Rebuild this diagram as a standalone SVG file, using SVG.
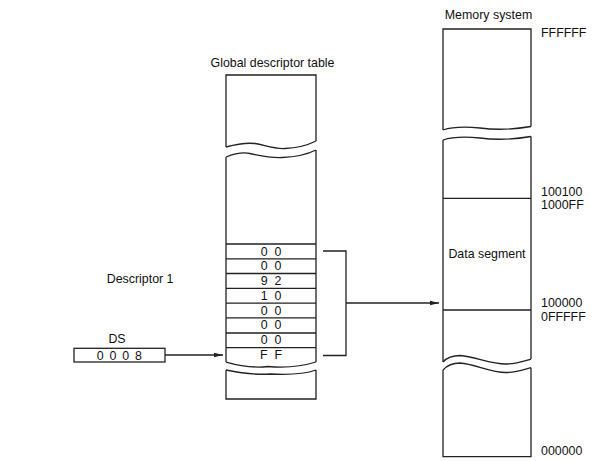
<svg xmlns="http://www.w3.org/2000/svg" width="606" height="461" viewBox="0 0 606 461">
<style>
  .ln { fill: none; stroke: #222; stroke-width: 1.3; stroke-linejoin: miter; }
  .bx { fill: #fff; stroke: #222; stroke-width: 1.3; }
  text { font-family: "Liberation Sans", Arial, sans-serif; font-size: 12.4px; fill: #111; }
  .c { text-anchor: middle; }
  .d { text-anchor: middle; word-spacing: 3.5px; }
</style>
<defs>
  <marker id="ah" markerWidth="9" markerHeight="6" refX="9" refY="3" orient="auto" markerUnits="userSpaceOnUse">
    <path d="M0,0.8 L9,3 L0,5.2 Z" fill="#222"/>
  </marker>
</defs>
<rect width="606" height="461" fill="#fff"/>

<g id="gdt">
  <text class="c" x="272.5" y="66.7">Global descriptor table</text>
  <path class="ln" d="M226,147 V75 H316 V141"/>
  <path class="ln" d="M226,147 C237,144 246,142.5 255,143.5 C265,145 272,149 285,148.5 C298,148 308,145 316,141"/>
  <path class="ln" d="M226,157 C236,153 243,152 250,153.5 C258,155 268,158 282,157.5 C296,157 308,154 316,150"/>
  <path class="ln" d="M226,157 V362 M316,150 V362"/>
  <path class="ln" d="M226,362 C240,366 255,368 268,366.5 C285,368 300,367 316,362"/>
  <path class="ln" d="M226,244 H316 M226,258.8 H316 M226,273.5 H316 M226,288.3 H316 M226,303.2 H316 M226,317.8 H316 M226,333 H316 M226,347.7 H316"/>
  <path class="ln" d="M226,370 C240,373 255,375 270,374 C290,375 305,374 316,370 M226,370 V399 H316 V370"/>
  <text class="d" x="271" y="255.6">0 0</text>
  <text class="d" x="271" y="270.4">0 0</text>
  <text class="d" x="271" y="285.1">9 2</text>
  <text class="d" x="271" y="299.9">1 0</text>
  <text class="d" x="271" y="314.6">0 0</text>
  <text class="d" x="271" y="329.4">0 0</text>
  <text class="d" x="271" y="344.1">0 0</text>
  <text class="d" x="271" y="358.9">F F</text>
</g>

<g id="descriptor1">
  <text x="106.7" y="283.3">Descriptor 1</text>
</g>

<g id="ds">
  <text class="c" x="117" y="342.7">DS</text>
  <rect class="bx" x="74" y="348.3" width="91" height="13.7"/>
  <text class="c" x="119.3" y="359.6" style="word-spacing:2.4px">0 0 0 8</text>
</g>

<g id="memory">
  <text class="c" x="488.5" y="19.3">Memory system</text>
  <path class="ln" d="M443,130 V29 H531 V126.5"/>
  <path class="ln" d="M443,130 C452,127 465,126.5 480,128 C495,130 510,130 531,126.5"/>
  <path class="ln" d="M443,140 C452,137 465,136.5 480,138 C495,140 510,140 531,136.5"/>
  <path class="ln" d="M443,140 V362 M531,136.5 V359"/>
  <path class="ln" d="M443,198.3 H531 M443,310 H531"/>
  <path class="ln" d="M443,362 C447,357.5 452,355.5 460,355.5 C475,356.5 490,364 506,364 C516,364 524,361 531,359"/>
  <path class="ln" d="M443,370 C447,365.5 452,363 460,363 C475,364 490,372.5 506,372.5 C516,372.5 524,369.5 531,367.7 M443,370 V456.7 H531 V367.7"/>
  <text class="c" x="487" y="257.7">Data segment</text>
  <text x="541" y="36.7">FFFFFF</text>
  <text x="541" y="196">100100</text>
  <text x="541" y="209.3">1000FF</text>
  <text x="541" y="307.3">100000</text>
  <text x="541" y="320.7">0FFFFF</text>
  <text x="541" y="455">000000</text>
</g>

<g id="connectors">
  <path class="ln" d="M165,355 H223" marker-end="url(#ah)"/>
  <path class="ln" d="M323,251 H346 V355.5 H323"/>
  <path class="ln" d="M346,303 H439" marker-end="url(#ah)"/>
</g>
</svg>
